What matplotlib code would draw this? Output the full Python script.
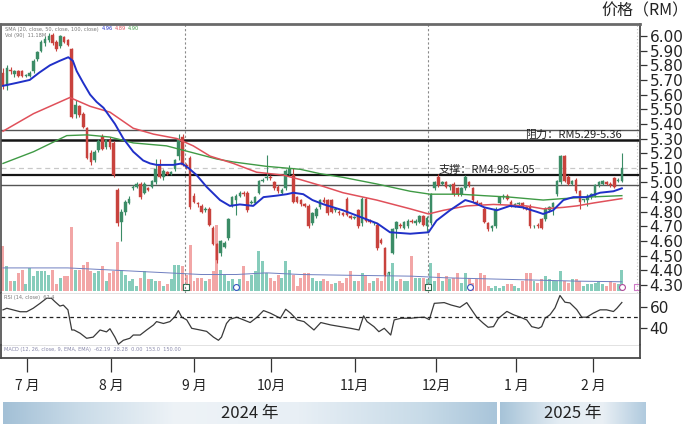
import numpy as np
import matplotlib
matplotlib.use("Agg")
import matplotlib.pyplot as plt
from matplotlib.colors import LinearSegmentedColormap
from matplotlib.ticker import FormatStrFormatter

plt.rcParams['font.family'] = ['Noto Sans CJK SC', 'DejaVu Sans']

# ---------------- data ----------------
opens = [5.75,5.66,5.77,5.74,5.76,5.76,5.73,5.73,5.76,5.84,
         5.90,5.95,5.97,6.01,5.96,5.93,5.99,5.97,5.91,5.47,
         5.52,5.47,5.37,5.20,5.15,5.22,5.31,5.24,5.29,5.27,
         4.95,4.73,4.80,4.86,4.96,4.97,4.99,4.93,4.96,4.97,
         5.00,5.12,5.04,5.07,5.06,5.09,5.18,5.31,5.12,5.17,
         4.91,4.86,4.84,4.81,4.82,4.69,4.58,4.52,4.56,4.62,
         4.84,4.88,4.91,4.93,4.93,4.86,4.86,4.93,5.01,5.03,
         5.04,5.00,4.97,4.93,4.96,5.06,5.05,4.90,4.88,4.85,
         4.84,4.72,4.77,4.83,4.88,4.88,4.88,4.81,4.80,4.79,
         4.89,4.77,4.76,4.81,4.72,4.89,4.74,4.72,4.71,4.61,
         4.55,4.38,4.52,4.68,4.71,4.69,4.70,4.74,4.72,4.73,
         4.77,4.70,4.72,4.96,5.04,4.99,5.00,4.97,4.99,4.96,
         4.92,4.96,5.00,4.96,4.87,4.86,4.82,4.72,4.69,4.70,
         4.86,4.90,4.91,4.87,4.84,4.85,4.86,4.83,4.84,4.70,
         4.71,4.75,4.75,4.81,4.83,4.92,5.00,5.18,5.04,4.99,
         5.02,4.94,4.88,4.88,4.90,4.91,4.98,4.99,5.00,4.99,
         5.03,5.01,5.01]
highs = [5.78,5.80,5.79,5.77,5.77,5.77,5.74,5.76,5.84,5.90,
         5.97,6.00,6.02,6.02,5.97,6.01,6.00,5.98,5.92,5.56,
         5.53,5.48,5.38,5.22,5.22,5.30,5.33,5.30,5.31,5.28,
         4.96,4.82,4.88,4.91,4.98,5.00,5.00,5.00,4.97,5.02,
         5.16,5.16,5.09,5.08,5.08,5.16,5.33,5.33,5.13,5.18,
         4.93,4.87,4.85,4.83,4.83,4.70,4.59,4.61,4.60,4.76,
         4.91,4.92,4.94,4.94,4.94,4.88,4.91,5.02,5.03,5.19,
         5.05,5.01,4.98,4.96,5.09,5.12,5.10,4.91,4.89,4.86,
         4.85,4.80,4.83,4.89,4.90,4.89,4.89,4.82,4.81,4.80,
         4.90,4.78,4.77,4.82,4.90,4.90,4.75,4.73,4.72,4.62,
         4.56,4.39,4.69,4.74,4.72,4.74,4.75,4.75,4.75,4.78,
         4.78,4.77,4.93,5.01,5.06,5.01,5.01,4.99,5.00,4.97,
         4.97,5.05,5.01,4.97,4.88,4.87,4.83,4.73,4.71,4.83,
         4.91,4.92,4.92,4.88,4.86,4.87,4.87,4.84,4.85,4.71,
         4.72,4.76,4.83,4.84,4.87,5.02,5.19,5.19,5.05,5.02,
         5.03,4.95,4.89,4.92,4.93,4.99,5.01,5.02,5.01,5.00,
         5.04,5.03,5.20]
lows = [5.64,5.63,5.74,5.72,5.72,5.72,5.72,5.72,5.75,5.83,
        5.89,5.93,5.96,5.94,5.90,5.92,5.95,5.93,5.44,5.44,
        5.45,5.37,5.16,5.12,5.14,5.21,5.22,5.23,5.23,5.04,
        4.70,4.60,4.78,4.85,4.95,4.96,4.89,4.92,4.94,4.96,
        4.99,5.03,5.02,5.05,5.05,5.08,5.15,5.11,5.09,4.82,
        4.86,4.83,4.79,4.80,4.70,4.57,4.45,4.50,4.55,4.61,
        4.83,4.78,4.90,4.91,4.80,4.85,4.85,4.92,5.00,5.02,
        5.02,4.95,4.93,4.92,4.95,5.05,4.86,4.86,4.84,4.83,
        4.69,4.71,4.76,4.82,4.86,4.78,4.79,4.80,4.78,4.77,
        4.77,4.75,4.75,4.69,4.70,4.73,4.72,4.71,4.54,4.58,
        4.36,4.37,4.51,4.62,4.69,4.68,4.69,4.72,4.71,4.72,
        4.70,4.66,4.71,4.95,4.97,4.98,4.96,4.95,4.91,4.91,
        4.91,4.95,4.97,4.87,4.85,4.84,4.72,4.67,4.67,4.69,
        4.85,4.89,4.88,4.83,4.83,4.84,4.82,4.81,4.69,4.69,
        4.69,4.68,4.74,4.80,4.78,4.91,4.99,5.00,4.98,4.98,
        4.93,4.82,4.87,4.84,4.89,4.90,4.97,4.98,4.98,4.97,
        4.96,5.00,5.00]
closes = [5.66,5.78,5.76,5.76,5.73,5.73,5.73,5.75,5.83,5.89,
          5.96,5.98,6.00,5.95,5.91,6.00,5.96,5.94,5.45,5.53,
          5.46,5.38,5.17,5.14,5.21,5.28,5.23,5.29,5.24,5.05,
          4.72,4.80,4.87,4.89,4.97,4.99,4.90,4.99,4.95,5.01,
          5.09,5.04,5.08,5.06,5.07,5.15,5.30,5.12,5.11,4.83,
          4.87,4.85,4.80,4.82,4.71,4.58,4.47,4.60,4.59,4.75,
          4.90,4.91,4.93,4.92,4.81,4.87,4.90,5.01,5.02,5.04,
          5.03,4.96,4.94,4.95,5.08,5.09,4.87,4.87,4.85,4.84,
          4.70,4.79,4.82,4.88,4.87,4.79,4.80,4.81,4.79,4.78,
          4.78,4.76,4.76,4.70,4.89,4.74,4.73,4.72,4.55,4.59,
          4.37,4.38,4.68,4.73,4.70,4.73,4.74,4.73,4.74,4.77,
          4.71,4.76,4.92,5.00,4.98,5.00,4.97,4.98,4.92,4.92,
          4.96,5.04,4.98,4.88,4.86,4.85,4.73,4.68,4.70,4.82,
          4.90,4.91,4.89,4.84,4.85,4.86,4.83,4.82,4.70,4.70,
          4.70,4.69,4.82,4.83,4.86,5.01,5.18,5.01,4.99,5.01,
          4.94,4.87,4.88,4.91,4.92,4.98,5.00,5.01,4.99,4.98,
          4.97,5.02,5.10]
volumes = [13.5,7.5,3,3,5.5,6.5,2,7,4.5,6,
           6,6,5,6.5,2,4,4.5,4.5,19.5,6.5,
           6.5,8,8.8,6,5.5,6,7.5,3,5.5,6,
           15,6.5,5,3,3.5,1.5,4,6,3.5,3.5,
           3,3,1.5,2,3.5,8,8,7.5,5,14,
           3,4,4,3,3.5,6,20,6.5,5,3,
           3.5,1.5,3.5,7.5,3,5,6,12,9,5.5,
           4,3,5,4,9,6.5,5,1.5,4,5.5,
           5.5,4,3,3,3.5,3,2,2.5,3,2.5,
           4,6,3,3,5.5,5,2.5,3,4,3,
           8,5.5,8.5,3,3.5,3,3,10.5,4,4,
           4,3.5,8.5,3,5.5,3,4.5,3.5,4,5.5,
           2.5,5.5,4,2.5,3.5,5.5,5,1.5,1,1.5,
           1,1.5,2,2,1.5,1,3,5.5,5.5,3,
           2.5,3.5,4.5,3.5,3,3,6,3,2.5,3.5,
           3.5,3,1.5,2,2,2.5,3,2,1.5,3,
           2.5,2,6.5]
vol_ma_x = [0, 17, 26, 38, 52, 61, 69, 78, 89, 107, 116, 133, 150, 162]
vol_ma_y = [7, 7, 6.5, 5.8, 5, 5, 5.5, 5, 4.8, 4.5, 4, 3.5, 3, 2.8]

sma20_x = [0,3.6,7,9.5,12.3,14.8,17.1,18.3,19.3,21,22.8,24.5,26.3,29.3,31.5,34.1,36.7,38.5,40.2,
           44.6,46.8,48.5,50.7,53.3,56.8,59.4,62,65.5,68.2,71.6,74.3,76,78.6,81,84,89,93,98,101.3,
           106.6,111.4,113.5,117,121,123,126,129.3,132.7,136,139.7,141.4,144,146.7,149.3,152.8,
           156.3,159.8,162]
sma20_y = [5.66,5.68,5.70,5.75,5.80,5.83,5.855,5.83,5.76,5.68,5.60,5.55,5.51,5.40,5.30,5.21,5.15,
           5.13,5.12,5.12,5.13,5.10,5.05,4.97,4.88,4.84,4.85,4.84,4.90,4.91,4.92,4.93,4.92,4.88,
           4.85,4.81,4.77,4.72,4.66,4.65,4.66,4.74,4.81,4.88,4.865,4.83,4.81,4.84,4.83,4.80,4.785,
           4.81,4.88,4.90,4.90,4.93,4.94,4.96]
sma50_x = [0,8,17.5,22.8,28,34.1,39.4,45.5,49.8,54.2,60.3,66.4,73.4,77.8,83,89,97.8,106.6,
           111.4,115.3,121.4,128.4,137,141.4,146.7,150.2,154.6,162]
sma50_y = [5.35,5.47,5.58,5.52,5.48,5.37,5.33,5.30,5.25,5.18,5.13,5.07,5.05,5.02,4.98,4.93,4.88,4.82,
           4.785,4.81,4.84,4.85,4.84,4.82,4.83,4.84,4.86,4.89]
sma100_x = [0,8,16.7,22,28,34.1,42.8,51.6,56,60.3,69,77.8,83,89,97.8,106.6,111.8,119.6,125.8,
            132.7,141.4,146.7,152.8,162]
sma100_y = [5.13,5.21,5.32,5.325,5.31,5.27,5.25,5.19,5.16,5.14,5.11,5.09,5.06,5.035,4.99,4.94,4.92,
            4.92,4.91,4.90,4.88,4.89,4.90,4.91]

rsi_x = [0,1,2.7,4.5,6.2,7.9,9.7,11.4,12.7,13.6,14.9,15.8,17,18,18.6,20.2,21.9,23.6,25.4,27.1,28,
         29.3,30.2,31.5,33.2,34.1,35.9,37.6,39.4,40.2,42,43.7,45,45.9,46.8,48.1,49.4,51.6,53.3,55.1,
         56.4,57.2,58.5,59.4,61.2,63,64.7,66.5,68.2,70,72.6,74,75.3,77,78.8,81.4,83.2,85.8,88.4,91,
         93.2,94.4,95.3,97.1,98.4,99.8,101.5,102.4,104.2,106.8,108.5,110.3,111.6,112.9,115.5,117.3,
         119.6,121.4,122.7,124,125.7,127,128.4,129.7,131.9,133.6,135.4,137.1,138.4,140.2,141,141.9,
         143.2,144.5,145.8,147.1,148.4,150.2,151.5,152.8,154.5,156.3,158,159.8,160.7,162]
rsi_y = [57,58.5,56.9,55.2,55.2,58.5,63.2,68,68,64.8,60.6,61.5,57,37.8,37.8,34.7,29.9,31,37.8,36,39,
         31,24.2,28,29.9,33,33,37.8,42.6,45.8,44,45.8,50.5,56.3,50,47.4,39.4,37.8,36.5,31,
         28,31,44,48,50,47.4,44.9,50,56.3,53.8,49,57.6,53.8,47.4,45.8,37.8,44.9,42.6,41,39.4,
         37.8,51.3,45.8,41,36.2,39.4,33,47.4,49,49,49.7,50,47.7,63.2,63.9,61.6,
         59.4,63.9,56.9,50,44.3,40.4,41,49,55.5,52.4,50,47.4,41,39.4,41,49,
         52.4,58.9,70.7,64.3,63.6,57.2,50,50,53.8,57,57,55.4,58.5,64]

month_pos = [6.3, 28.3, 50.0, 70.2, 92.1, 113.4, 134.3, 154.5]
month_labels = ['7 月', '8 月', '9 月', '10月', '11月', '12月', '1 月', '2 月']
price_ticks = [4.30, 4.40, 4.50, 4.60, 4.70, 4.80, 4.90, 5.00, 5.10, 5.20, 5.30,
               5.40, 5.50, 5.60, 5.70, 5.80, 5.90, 6.00]
resistance = [5.29, 5.36]
support = [4.98, 5.05]
last_price = 5.10
session_lines = [47.64, 111.26]

# ---------------- figure ----------------
W, H = 690, 424
fig = plt.figure(figsize=(W / 100, H / 100), dpi=100)


def fa(x0, y0, x1, y1):
    return [x0 / W, 1 - y1 / H, (x1 - x0) / W, (y1 - y0) / H]


XL = (-0.52, 166.75)
GREEN, RED = '#3b8c66', '#c8423d'
VGREEN, VRED = '#86ccbb', '#f2a6a6'
FRAME = '#4a4a4a'

o = np.array(opens); c = np.array(closes); h = np.array(highs); l = np.array(lows)
idx = np.arange(len(c))
up = c >= o

# price panel
ax = fig.add_axes(fa(1, 24, 640, 293))
axv = ax.twinx()
ax.set_zorder(axv.get_zorder() + 1)
ax.patch.set_visible(False)

axv.bar(idx, volumes, width=0.78, color=np.where(up, VGREEN, VRED), linewidth=0)
axv.plot(vol_ma_x, vol_ma_y, color='#6f7fc0', lw=0.7)
axv.set_ylim(-0.6, 80.9)
axv.set_yticks([])
for s in axv.spines.values():
    s.set_visible(False)
# event icons
axv.scatter([47.9, 111.3], [1.2, 1.2], s=14, marker='s', facecolor='white',
            edgecolor='#2e6e50', linewidth=0.8, zorder=5)
axv.scatter([61.0, 122.3], [1.2, 1.2], s=18, marker='o', facecolor='white',
            edgecolor='#3a55c0', linewidth=0.8, zorder=5)
axv.scatter([162.0], [1.2], s=18, marker='o', facecolor='white',
            edgecolor='#b04a9a', linewidth=0.8, zorder=5)
axv.scatter([165.9], [1.2], s=14, marker='s', facecolor='white',
            edgecolor='#d07ac8', linewidth=0.8, zorder=5)

col = np.where(up, GREEN, RED)
ax.vlines(idx, l, h, colors=col, lw=0.8, zorder=3)
ax.bar(idx, np.maximum(np.abs(c - o), 0.006), bottom=np.minimum(o, c), width=0.68,
       color=col, edgecolor=col, linewidth=0.3, zorder=4)

ax.plot(sma100_x, sma100_y, color='#3f9a45', lw=1.0, zorder=5)
ax.plot(sma50_x, sma50_y, color='#e0505a', lw=1.1, zorder=5)
ax.plot(sma20_x, sma20_y, color='#2030c8', lw=1.4, zorder=6)

ax.axhline(resistance[1], color='#555555', lw=1.0, zorder=2)
ax.axhline(resistance[0], color='#151515', lw=1.8, zorder=2)
ax.axhline(support[1], color='#151515', lw=1.6, zorder=2)
ax.axhline(support[0], color='#555555', lw=1.0, zorder=2)
ax.axhline(last_price, color='#c8c8c8', lw=0.9, ls=(0, (4, 3)), zorder=1)
for xv in session_lines:
    ax.axvline(xv, color='#8a8a8a', lw=0.8, ls=(0, (2, 2)), zorder=1)
ax.axvline(165.95, color='#c0c0c0', lw=0.8, ls=(0, (1, 2)), zorder=1)

ax.text(162, 5.325, '阻力：RM5.29-5.36', ha='right', va='center', fontsize=8, color='#222222')
ax.text(113.9, 5.088, '支撑：RM4.98-5.05', ha='left', va='center', fontsize=8, color='#222222')

ax.set_xlim(*XL)
ax.set_ylim(4.2454, 6.0819)
ax.yaxis.tick_right()
ax.set_yticks(price_ticks)
ax.yaxis.set_major_formatter(FormatStrFormatter('%.2f'))
ax.tick_params(axis='y', length=5, width=0.9, color='#333333', pad=2, labelsize=11,
               labelcolor='#222222')
for t in ax.get_yticklabels():
    t.set_fontfamily('DejaVu Sans')
ax.tick_params(axis='x', bottom=False, labelbottom=False)
ax.spines['top'].set_color('#6a6a6a'); ax.spines['top'].set_linewidth(2.0)
ax.spines['left'].set_color(FRAME); ax.spines['left'].set_linewidth(1.2)
ax.spines['right'].set_color(FRAME); ax.spines['right'].set_linewidth(1.3)
ax.spines['bottom'].set_visible(False)

# RSI panel
axr = fig.add_axes(fa(1, 293, 640, 345))
axr.plot(rsi_x, rsi_y, color='#3a3a3a', lw=0.9)
axr.axhline(50, color='#222222', lw=0.9, ls=(0, (3, 2.5)))
axr.set_xlim(*XL)
axr.set_ylim(23.5, 73.05)
axr.yaxis.tick_right()
axr.set_yticks([40, 60])
axr.tick_params(axis='y', length=5, width=0.9, color='#333333', pad=2, labelsize=11,
                labelcolor='#222222')
for t in axr.get_yticklabels():
    t.set_fontfamily('DejaVu Sans')
axr.tick_params(axis='x', bottom=False, labelbottom=False)
axr.spines['top'].set_color('#dddddd'); axr.spines['top'].set_linewidth(0.6)
axr.spines['bottom'].set_color('#dddddd'); axr.spines['bottom'].set_linewidth(0.6)
axr.spines['left'].set_color(FRAME); axr.spines['left'].set_linewidth(1.2)
axr.spines['right'].set_color(FRAME); axr.spines['right'].set_linewidth(1.3)
axr.patch.set_visible(False)

# MACD strip + month axis
axm = fig.add_axes(fa(1, 345, 640, 358))
axm.set_xlim(*XL)
axm.set_yticks([])
axm.set_xticks(month_pos)
axm.set_xticklabels(month_labels)
axm.tick_params(axis='x', length=10, width=0.9, color='#333333', pad=5, labelsize=10,
                labelcolor='#222222')
axm.spines['top'].set_visible(False)
for s in ['left', 'right', 'bottom']:
    axm.spines[s].set_color(FRAME); axm.spines[s].set_linewidth(1.3)
axm.patch.set_visible(False)

# small indicator labels
small = dict(fontsize=3.6, family=['DejaVu Sans'])
fig.text(5 / W, 1 - 29 / H, 'SMA (20, close, 50, close, 100, close)', color='#777777', va='center', **small)
fig.text(102 / W, 1 - 29 / H, '4.96', color='#2030c8', va='center', **small)
fig.text(115 / W, 1 - 29 / H, '4.89', color='#e0505a', va='center', **small)
fig.text(128 / W, 1 - 29 / H, '4.90', color='#3f9a45', va='center', **small)
fig.text(5 / W, 1 - 35 / H, 'Vol (90)  11.18M', color='#777777', va='center', **small)
fig.text(4 / W, 1 - 298 / H, 'RSI (14, close)  62.4', color='#777777', va='center', **small)
fig.text(4 / W, 1 - 350 / H, 'MACD (12, 26, close, 9, EMA, EMA)  -62.19  28.28  0.00  153.0  150.00',
         color='#8888aa', va='center', **small)

# title
fig.text(688 / W, 1 - 11 / H, '价格（RM）', ha='right', va='center', fontsize=11.5, color='#222222')

# year bands
def band(x0, x1, y0, y1, colors, label):
    a = fig.add_axes(fa(x0, y0, x1, y1))
    cmap = LinearSegmentedColormap.from_list('band', colors)
    a.imshow(np.linspace(0, 1, 256)[None, :], aspect='auto', cmap=cmap, extent=[0, 1, 0, 1])
    a.set_axis_off()
    a.text(0.5, 0.48, label, ha='center', va='center', fontsize=12, color='#222222',
           transform=a.transAxes)

band(3, 497, 402, 424, [(0, '#a3c0d6'), (0.15, '#c9dbe8'), (0.35, '#eef3f7'),
                        (0.6, '#e8eff5'), (0.85, '#c8dbe8'), (1, '#a9c5da')], '2024 年')
band(500, 646, 402, 424, [(0, '#a6c3d8'), (0.4, '#e3ecf3'), (0.7, '#eaf0f5'),
                          (1, '#b0cade')], '2025 年')

fig.savefig('out.png', dpi=100)
